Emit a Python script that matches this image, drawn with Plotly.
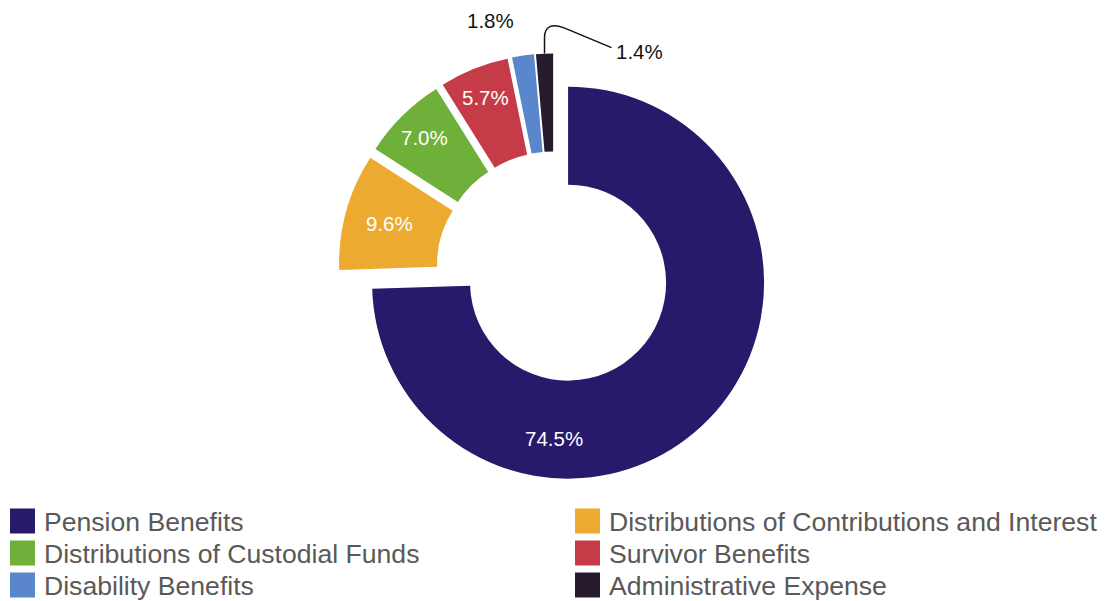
import math
import plotly.graph_objects as go

# Expense breakdown (percent of total)
categories = [
    "Pension Benefits",
    "Distributions of Contributions and Interest",
    "Distributions of Custodial Funds",
    "Survivor Benefits",
    "Disability Benefits",
    "Administrative Expense",
]
shares = [74.5, 9.6, 7.0, 5.7, 1.8, 1.4]
colors = ["#28196a", "#ecab30", "#6eb039", "#c63b48", "#5a87cb", "#261c2e"]

W, H = 1105, 601
FONT = "Liberation Sans, Arial, sans-serif"

# Pie geometry (pixels): centre, radius and pull fraction
CX, CY, R = 554.0, 269.0, 196.0
PULL = 0.1
HOLE = 0.5
half_box = R * (1 + PULL)


def to_paper(x, y):
    return x / W, 1 - y / H


fig = go.Figure(
    go.Pie(
        labels=categories,
        values=shares,
        marker=dict(colors=colors, line=dict(width=0)),
        hole=HOLE,
        pull=[PULL] * len(shares),
        sort=False,
        direction="clockwise",
        rotation=0,
        textinfo="none",
        showlegend=False,
        domain=dict(
            x=[(CX - 300) / W, (CX + 300) / W],
            y=[1 - (CY + half_box) / H, 1 - (CY - half_box) / H],
        ),
    )
)

# Slice mid angles (degrees clockwise from 12 o'clock)
total = sum(shares)
mids = []
acc = 0.0
for v in shares:
    mids.append((acc + v / 2) / total * 360)
    acc += v

annotations = []
shapes = []

# Percent labels inside the wider slices
label_angle = {0: 185.0}
label_radius = {1: 0.77, 2: 0.84, 3: 0.84}
for i, v in enumerate(shares):
    if v < 5:
        continue
    a = math.radians(mids[i])
    ox, oy = CX + PULL * R * math.sin(a), CY - PULL * R * math.cos(a)
    b = math.radians(label_angle.get(i, mids[i]))
    rr = label_radius.get(i, 0.8) * R
    lx, ly = ox + rr * math.sin(b), oy - rr * math.cos(b)
    px_, py_ = to_paper(lx, ly)
    annotations.append(dict(
        x=px_, y=py_, xref="paper", yref="paper", text=f"{v:.1f}%",
        showarrow=False, xanchor="center", yanchor="middle",
        font=dict(family=FONT, size=20.5, color="#ffffff"),
    ))

# Outside labels for the two thin slices
a4 = math.radians(mids[4])
ax4 = CX + R * (1 + PULL) * math.sin(a4)
ay4 = CY - R * (1 + PULL) * math.cos(a4)
p = to_paper(ax4 - 7, ay4 - 35)
annotations.append(dict(
    x=p[0], y=p[1], xref="paper", yref="paper", text=f"{shares[4]:.1f}%",
    showarrow=False, xanchor="right", yanchor="middle",
    font=dict(family=FONT, size=20.5, color="#111111"),
))

a5 = math.radians(mids[5])
ax5 = CX + R * (1 + PULL) * math.sin(a5)
ay5 = CY - R * (1 + PULL) * math.cos(a5)
pts = [
    (ax5, ay5), (ax5, ay5 - 16),
    (ax5, ay5 - 28), (ax5 + 8, ay5 - 30), (ax5 + 19, ay5 - 26),
    (ax5 + 67, ay5 - 6),
]
pp = [to_paper(x, y) for x, y in pts]
path = (
    f"M {pp[0][0]},{pp[0][1]} L {pp[1][0]},{pp[1][1]} "
    f"C {pp[2][0]},{pp[2][1]} {pp[3][0]},{pp[3][1]} {pp[4][0]},{pp[4][1]} "
    f"L {pp[5][0]},{pp[5][1]}"
)
shapes.append(dict(type="path", xref="paper", yref="paper", path=path,
                   line=dict(color="#111111", width=1.5)))
p = to_paper(ax5 + 69, ay5 - 2)
annotations.append(dict(
    x=p[0], y=p[1], xref="paper", yref="paper", text=f"{shares[5]:.1f}%",
    showarrow=False, xanchor="left", yanchor="middle",
    font=dict(family=FONT, size=20.5, color="#111111"),
))

# Two-column legend
col_x = [10, 575]
row_y = [521, 553, 585]
SQ = 25
for i, (name, c) in enumerate(zip(categories, colors)):
    x0 = col_x[i % 2]
    yc = row_y[i // 2]
    p0 = to_paper(x0, yc - SQ / 2)
    p1 = to_paper(x0 + SQ, yc + SQ / 2)
    shapes.append(dict(type="rect", xref="paper", yref="paper",
                       x0=p0[0], y0=p1[1], x1=p1[0], y1=p0[1],
                       fillcolor=c, line=dict(width=0)))
    pt = to_paper(x0 + SQ + 7, yc + 1)
    annotations.append(dict(
        x=pt[0], y=pt[1], xref="paper", yref="paper", text=name,
        showarrow=False, xanchor="left", yanchor="middle",
        font=dict(family=FONT, size=26.6, color="#595959"),
    ))

fig.update_layout(
    width=W, height=H,
    margin=dict(l=0, r=0, t=0, b=0),
    paper_bgcolor="#ffffff",
    plot_bgcolor="#ffffff",
    annotations=annotations,
    shapes=shapes,
)

fig.write_html("out.html")
